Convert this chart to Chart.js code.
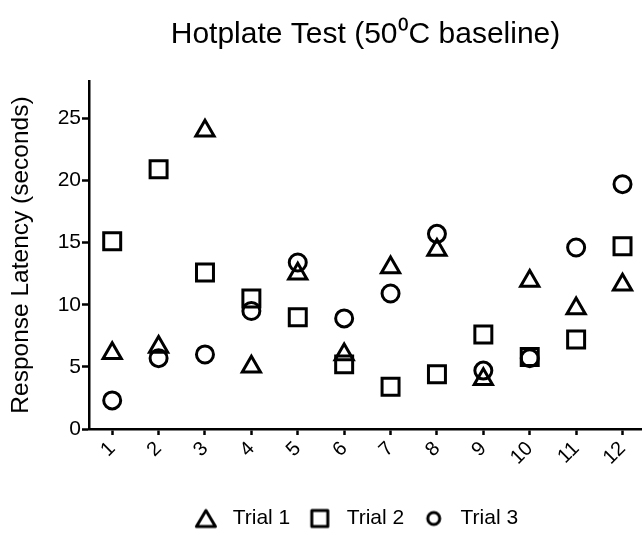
<!DOCTYPE html>
<html>
<head>
<meta charset="utf-8">
<script src="https://cdn.jsdelivr.net/npm/chart.js@4.4.1/dist/chart.umd.min.js"></script>
<style>
  html, body { margin: 0; padding: 0; background: #fff; }
  #wrap { width: 642px; height: 547px; position: relative; }
</style>
</head>
<body>
<div id="wrap"><canvas id="grafica"></canvas></div>
<script>
// Datos
const sujetos = [1, 2, 3, 4, 5, 6, 7, 8, 9, 10, 11, 12];
const trial1 = [6.1, 6.6, 24.0, 5.0, 12.5, 6.0, 13.0, 14.4, 4.0, 11.9, 9.7, 11.6];
const trial2 = [15.1, 20.9, 12.6, 10.5, 9.0, 5.2, 3.4, 4.4, 7.6, 5.8, 7.2, 14.7];
const trial3 = [2.3, 5.7, 6.0, 9.5, 13.4, 8.9, 10.9, 15.7, 4.7, 5.7, 14.6, 19.7];
const yTicks = [0, 5, 10, 15, 20, 25];

const fuente = 'Liberation Sans, Arial, Helvetica, sans-serif';

function puntos(valores) {
    return sujetos.map((s, i) => ({ x: s, y: valores[i] }));
}

function serie(label, valores, estilo, radio) {
    return {
        label: label,
        data: puntos(valores),
        pointStyle: estilo,
        pointRadius: radio,
        pointHoverRadius: radio,
        borderColor: '#000',
        backgroundColor: 'rgba(0,0,0,0)',
        pointBorderWidth: 3,
        borderWidth: 3,
        clip: false
    };
}

// Iconos de la leyenda (solo simbolos, no datos)
function icono(tipo) {
    const c = document.createElement('canvas');
    c.width = 24;
    c.height = 24;
    const g = c.getContext('2d');
    g.strokeStyle = '#000';
    g.lineWidth = 3;
    g.lineJoin = 'round';
    g.beginPath();
    if (tipo === 'triangle') {
        g.moveTo(12, 4);
        g.lineTo(21.5, 20);
        g.lineTo(2.5, 20);
        g.closePath();
    } else if (tipo === 'rect') {
        g.rect(4, 4, 16, 16);
    } else {
        g.arc(12, 12, 6, 0, Math.PI * 2);
    }
    g.stroke();
    return c;
}
const iconos = [icono('triangle'), icono('rect'), icono('circle')];

const ctx = document.getElementById('grafica');
new Chart(ctx, {
    type: 'scatter',
    data: {
        datasets: [
            serie(' Trial 1', trial1, 'triangle', 10.5),
            serie(' Trial 2', trial2, 'rect', 12),
            serie(' Trial 3   ', trial3, 'circle', 8.5)
        ]
    },
    options: {
        responsive: true,
        maintainAspectRatio: false,
        animation: false,
        layout: { autoPadding: false, padding: { left: 0, right: 0, top: 0, bottom: 8 } },
        plugins: {
            title: {
                display: true,
                text: 'Hotplate Test (50\u2070C baseline)',
                fullSize: false,
                color: '#000',
                font: { family: fuente, size: 30, weight: 'normal' },
                padding: { top: 17, bottom: 28 }
            },
            legend: {
                position: 'bottom',
                fullSize: false,
                labels: {
                    usePointStyle: true,
                    boxWidth: 21,
                    boxHeight: 12,
                    padding: 19,
                    color: '#000',
                    font: { family: fuente, size: 21 },
                    generateLabels: (chart) => {
                        const base = Chart.defaults.plugins.legend.labels.generateLabels(chart);
                        return base.map((it, i) => Object.assign(it, { pointStyle: iconos[i] }));
                    }
                }
            },
            tooltip: { enabled: false }
        },
        scales: {
            x: {
                type: 'linear',
                min: 0.5,
                max: 12.42,
                afterBuildTicks: (scale) => {
                    scale.ticks = sujetos.map(v => ({ value: v }));
                },
                afterFit: (scale) => {
                    scale.height = 60;
                    scale.paddingRight = 0;
                    scale.paddingLeft = 0;
                },
                border: { display: true, color: '#000', width: 2.5 },
                grid: { drawOnChartArea: false, drawTicks: true, tickLength: 6, tickWidth: 2.5, tickColor: '#000' },
                ticks: {
                    color: '#000',
                    font: { family: fuente, size: 20 },
                    minRotation: 45,
                    maxRotation: 45,
                    padding: 2,
                    callback: (v) => String(v)
                }
            },
            y: {
                min: 0,
                max: 28,
                afterBuildTicks: (scale) => {
                    scale.ticks = yTicks.map(v => ({ value: v }));
                },
                afterFit: (scale) => { scale.width = 89; },
                border: { display: true, color: '#000', width: 2.5 },
                grid: { drawOnChartArea: false, drawTicks: true, tickLength: 7, tickWidth: 2.5, tickColor: '#000' },
                ticks: {
                    color: '#000',
                    font: { family: fuente, size: 21 },
                    padding: 1
                },
                title: {
                    display: true,
                    text: 'Response Latency (seconds)',
                    color: '#000',
                    font: { family: fuente, size: 24.5 },
                    padding: { top: 7, bottom: 0 }
                }
            }
        }
    }
});
</script>
</body>
</html>
